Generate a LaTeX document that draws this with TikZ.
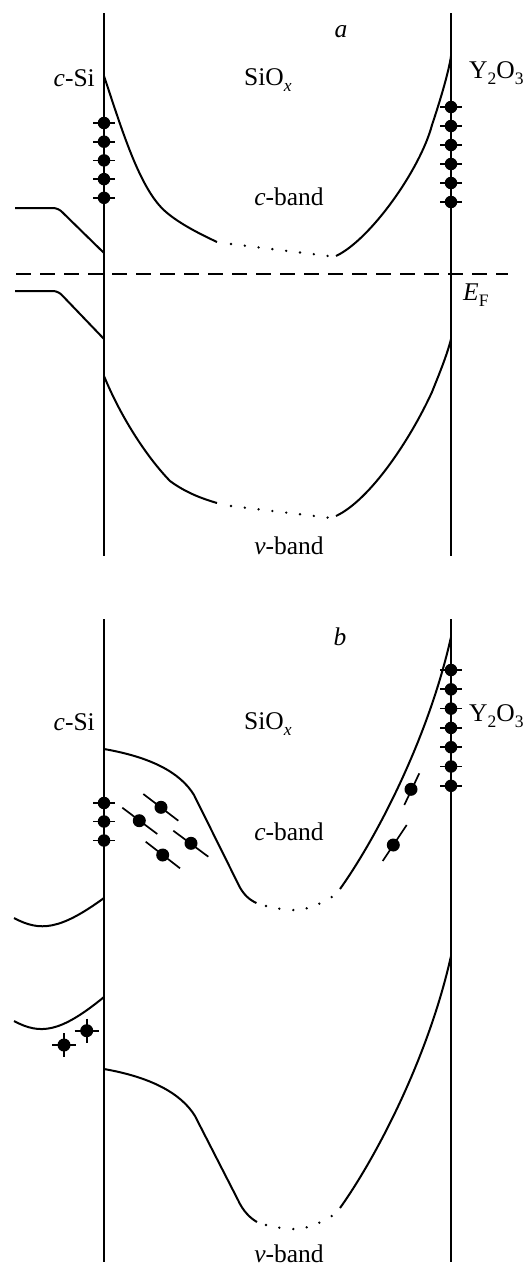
\documentclass[tikz,border=0pt]{standalone}
\usepackage{fontspec}
\setmainfont{Liberation Serif}
\newcommand{\sbs}[1]{\raisebox{-0.24em}{\fontsize{17.5}{17.5}\selectfont #1}}
\begin{document}
\begin{tikzpicture}[x=1pt,y=-1pt,line join=round,
  wall/.style={line width=2pt},
  band/.style={line width=2pt},
  lbl/.style={font=\fontsize{25.5}{29}\selectfont, inner sep=0pt, anchor=base},
  edot/.style={circle, fill=black, draw=none, inner sep=0pt, minimum size=12.5pt},
  tick/.style={line width=1.7pt},
  fdot/.style={circle, fill=black, inner sep=0pt, minimum size=2.6pt}]
\useasboundingbox (0,0) rectangle (532,1267);

% ================= panel a =================
\draw[wall] (104,13) coordinate (aLt) -- (104,556) coordinate (aLb);
\draw[wall] (451,13) coordinate (aRt) -- (451,556) coordinate (aRb);

\node[lbl] (la) at (341,37) {\textit{a}};
\node[lbl, anchor=base east] (aSi) at (95,86) {\textit{c}-Si};
\node[lbl, anchor=base west] (aSiO) at (244,85) {SiO\sbs{\textit{x}}};
\node[lbl, anchor=base west] (aYO) at (469,78) {Y\sbs{2}O\sbs{3}};
\node[lbl] (acb) at (289,205) {\textit{c}-band};
\node[lbl] (avb) at (289,554) {\textit{v}-band};
\node[lbl, anchor=base west] (aEF) at (463,300) {\textit{E}\sbs{F}};

% Fermi level
\draw[line width=1.4pt, dash pattern=on 15pt off 9pt] (16,274) coordinate (ef1) -- (508,274) coordinate (ef2);

% c-Si bands
\draw[band, rounded corners=5pt] (15,208) -- (58,208) -- (104,253);
\draw[band, rounded corners=5pt] (15,291) -- (58,291) -- (104,339);

% SiOx conduction band
\draw[band] (104,76) .. controls (122,130) and (140,190) .. (166,212)
   .. controls (180,224) and (200,234) .. (217,242) coordinate (acb1);
\foreach \i in {0,...,7}
  \node[fdot] (acd\i) at ({231+\i*13.8},{244+\i*1.7}) {};
\draw[band] (336,256) coordinate (acb2) .. controls (370,240) and (420,170) .. (432,125)
   .. controls (442,95) and (449,70) .. (451,56);

% SiOx valence band
\draw[band] (104,376) .. controls (120,415) and (145,455) .. (170,481)
   .. controls (185,492) and (200,498) .. (217,503) coordinate (avb1);
\foreach \i in {0,...,7}
  \node[fdot] (avd\i) at ({231+\i*13.8},{506+\i*1.65}) {};
\draw[band] (336,516) coordinate (avb2) .. controls (370,500) and (410,440) .. (432,392)
   .. controls (440,372) and (447,355) .. (451,339);

% interface states
\foreach \y [count=\k] in {123,141.7,160.4,179.1,197.8} {
  \draw[tick] (93,\y) -- (115,\y);
  \node[edot] (aLs\k) at (104,\y) {};
}
\foreach \y [count=\k] in {107,126,145,164,183,202} {
  \draw[tick] (440,\y) -- (462,\y);
  \node[edot] (aRs\k) at (451,\y) {};
}

% ================= panel b =================
\draw[wall] (104,619) coordinate (bLt) -- (104,1262) coordinate (bLb);
\draw[wall] (451,619) coordinate (bRt) -- (451,1262) coordinate (bRb);

\node[lbl] (lb) at (340,645) {\textit{b}};
\node[lbl, anchor=base east] (bSi) at (95,730) {\textit{c}-Si};
\node[lbl, anchor=base west] (bSiO) at (244,729) {SiO\sbs{\textit{x}}};
\node[lbl, anchor=base west] (bYO) at (469,721) {Y\sbs{2}O\sbs{3}};
\node[lbl] (bcb) at (289,840) {\textit{c}-band};
\node[lbl] (bvb) at (289,1262) {\textit{v}-band};

% c-Si bands
\draw[band] (14,918) .. controls (40,932) and (60,930) .. (104,898);
\draw[band] (14,1021) .. controls (40,1035) and (60,1033) .. (104,997);

% SiOx conduction band
\draw[band] (104,749) .. controls (150,757) and (180,772) .. (194,795)
   -- (237.7,883) .. controls (243,895) and (250,900) .. (256.4,903) coordinate (bcb1);
\foreach \x/\y [count=\k] in {266/906,279.3/908.7,293.3/910,306.7/908.3,319.3/903.7,331.7/897}
  \node[fdot] (bcd\k) at (\x,\y) {};
\draw[band] (340,889) coordinate (bcb2) .. controls (375,840) and (428,740) .. (451,637);

% SiOx valence band
\draw[band] (104,1069) .. controls (150,1077) and (181,1093) .. (195,1116)
   -- (238,1200) .. controls (243,1211) and (250,1218) .. (257,1222) coordinate (bvb1);
\foreach \x/\y [count=\k] in {266/1225,279.3/1227.7,293.3/1229,306.7/1227.3,319.3/1222.7,331.7/1216}
  \node[fdot] (bvd\k) at (\x,\y) {};
\draw[band] (340,1208) coordinate (bvb2) .. controls (375,1159) and (428,1059) .. (451,956);

% interface states
\foreach \y [count=\k] in {803,821.5,840.5} {
  \draw[tick] (93,\y) -- (115,\y);
  \node[edot] (bLs\k) at (104,\y) {};
}
\foreach \y [count=\k] in {670,689.3,708.6,727.9,747.2,766.5,785.8} {
  \draw[tick] (440,\y) -- (462,\y);
  \node[edot] (bRs\k) at (451,\y) {};
}

% trapped electrons in the oxide
\foreach \cx/\cy/\ax/\ay/\bx/\by [count=\k] in
  {161/807.3/143.3/794/178.3/820.7,
   139.3/820.7/122.3/807.7/157.3/834,
   191/843.3/173.3/830.7/208.3/856.7,
   162.7/855/145.7/841.7/180/868.3,
   411/789.3/404.3/805/419.3/773.3,
   393.3/845/382.7/861/406.7/825} {
  \draw[tick] (\ax,\ay) -- (\bx,\by);
  \node[edot, minimum size=13pt] (te\k) at (\cx,\cy) {};
}

% holes in c-Si
\foreach \cx/\cy [count=\k] in {86.7/1030.7,64/1045} {
  \draw[tick] (\cx-12,\cy) -- (\cx+12,\cy);
  \draw[tick] (\cx,\cy-12) -- (\cx,\cy+12);
  \node[edot, minimum size=13pt] (h\k) at (\cx,\cy) {};
}
\end{tikzpicture}
\end{document}
